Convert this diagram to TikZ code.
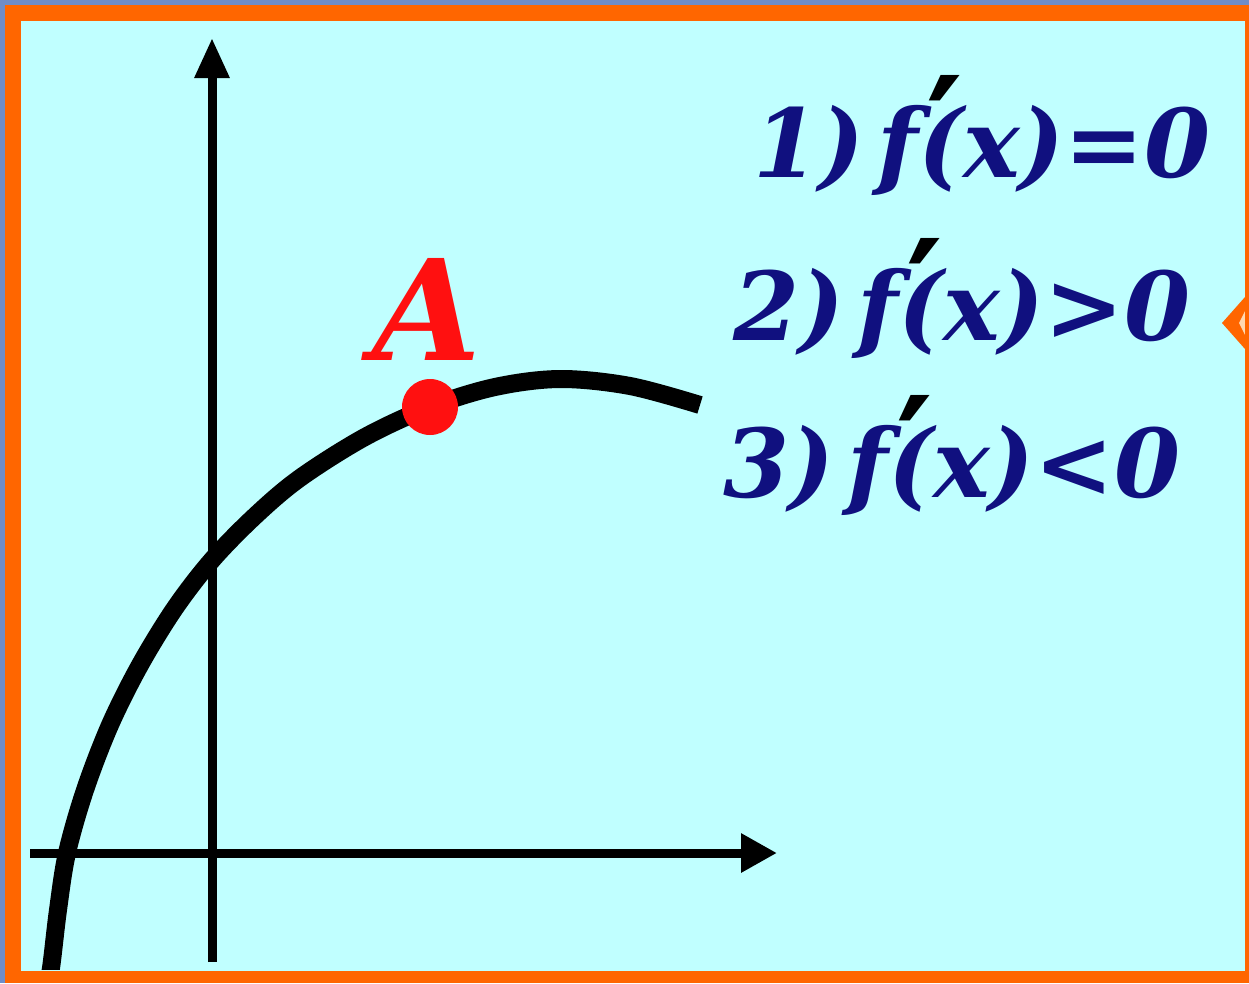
\documentclass[tikz,border=0pt]{standalone}
\usepackage{fontspec}
\setmainfont{DejaVu Serif}
\usetikzlibrary{arrows.meta}
\definecolor{bgblue}{HTML}{6F8DC8}
\definecolor{frameorange}{HTML}{FF6600}
\definecolor{panelcyan}{HTML}{C0FFFF}
\definecolor{peach}{HTML}{FFD8B0}
\definecolor{navy}{HTML}{10107F}
\definecolor{ptred}{HTML}{FF1010}
\tikzset{
  axisline/.style={line width=9pt, black},
  curveline/.style={line width=18pt, black},
  condtext/.style={anchor=base west, inner sep=0pt, text=navy,
    font=\fontsize{95}{110}\selectfont\bfseries\itshape},
}
\newcommand{\pmark}{\makebox[0pt][l]{\kern0.08em\raisebox{0pt}{\fontsize{140}{140}\selectfont\upshape\textcolor{black}{′}}}}
\begin{document}
\begin{tikzpicture}[x=1pt,y=-1pt]
\useasboundingbox (0,0) rectangle (1249,983);
% background and frame
\fill[bgblue] (0,0) rectangle (1249,983);
\fill[frameorange] (5,5) rectangle (1249,983);
\fill[panelcyan] (21,21) rectangle (1245,971);
\fill[frameorange] (1245,297) -- (1222,323) -- (1245,349) -- cycle;
\fill[peach] (1245,311) -- (1239,323) -- (1245,335) -- cycle;
\fill[frameorange] (1245,21) rectangle (1249,971);
% axes
\coordinate (ybot) at (212,962);
\coordinate (ytop) at (212,38);
\coordinate (xleft) at (30,853);
\coordinate (xright) at (777,853);
\draw[axisline, -{Triangle[width=33pt,length=40pt]}] (ybot) -- (ytop);
\draw[axisline, -{Triangle[width=37pt,length=36pt]}] (xleft) -- (xright);
% curve
\begin{scope}
\clip (21,21) rectangle (1245,969);
\draw[curveline] plot[smooth, tension=0.55] coordinates {(46,990) (51,968) (58,910) (67,853) (85,790) (110,725) (140,665) (175,608) (212,560) (255,516) (300,478) (365,437) (430,407) (495,387) (560,379) (630,386) (700,405)};
\end{scope}
% point A
\fill[ptred] (430,407) circle (28);
\node[anchor=base west, inner sep=0pt, text=ptred, font=\fontsize{140}{150}\selectfont\bfseries\itshape] (labelA) at (372,360) {A};
\node[condtext] (c1) at (753,177) {1)\kern0.14em f\pmark(x)=0};
\node[condtext] (c2) at (733,340) {2)\kern0.14em f\pmark(x)>0};
\node[condtext] (c3) at (723,497) {3)\kern0.14em f\pmark(x)<0};
\end{tikzpicture}
\end{document}
